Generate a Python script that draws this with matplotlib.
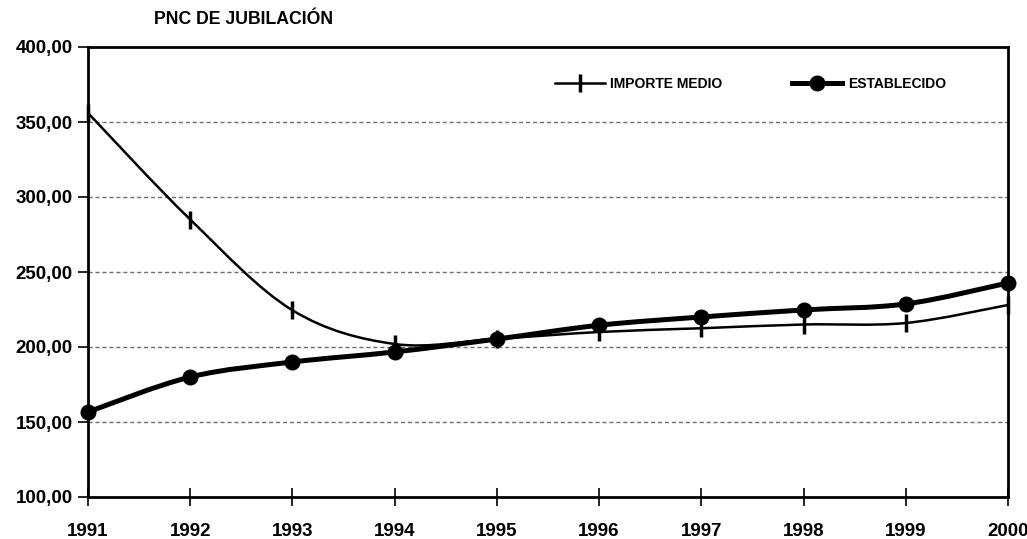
import matplotlib
matplotlib.use("Agg")
import matplotlib.pyplot as plt
from matplotlib.path import Path
from matplotlib.patches import PathPatch
from matplotlib.lines import Line2D
from matplotlib.ticker import FuncFormatter
import numpy as np

years = [1991, 1992, 1993, 1994, 1995, 1996, 1997, 1998, 1999, 2000]
importe_medio = [356.0, 285.0, 224.5, 202.0, 205.5, 210.0, 212.5, 215.0, 216.0, 228.0]
establecido = [156.7, 180.0, 190.0, 196.7, 205.3, 214.5, 220.0, 224.7, 228.7, 242.7]
title = "PNC DE JUBILACIÓN"
label_importe = "IMPORTE MEDIO"
label_establecido = "ESTABLECIDO"
yticks = [100, 150, 200, 250, 300, 350, 400]

FONT = ["Liberation Sans Narrow", "Liberation Sans", "DejaVu Sans"]
plt.rcParams["font.family"] = FONT
plt.rcParams["font.weight"] = "bold"


def smooth_path(xs, ys):
    """Catmull-Rom style cubic Bezier path (as Excel's smoothed line)."""
    P = np.column_stack([xs, ys]).astype(float)
    n = len(P)
    verts = [P[0]]
    codes = [Path.MOVETO]
    for i in range(n - 1):
        p0 = P[i - 1] if i > 0 else P[i]
        p1 = P[i]
        p2 = P[i + 1]
        p3 = P[i + 2] if i + 2 < n else P[i + 1]
        c1 = p1 + (p2 - p0) / 6.0
        c2 = p2 - (p3 - p1) / 6.0
        verts += [c1, c2, p2]
        codes += [Path.CURVE4] * 3
    return Path(verts, codes)


fig = plt.figure(figsize=(10.27, 5.39), dpi=100)
ax = fig.add_axes([88 / 1027, 1 - 497 / 539, 920 / 1027, 450 / 539])

ax.set_xlim(1991, 2000)
ax.set_ylim(100, 400)

# gridlines
for v in yticks[1:-1]:
    ax.axhline(v, color="#707070", lw=1.0, ls=(0, (3, 2)), zorder=1)

# IMPORTE MEDIO
ax.add_patch(PathPatch(smooth_path(years, importe_medio), fill=False,
                       edgecolor="black", lw=1.8, zorder=3, clip_on=False))
ax.plot(years, importe_medio, ls="none", marker="|", ms=13, mew=2.5,
        color="black", zorder=4, clip_on=False)

# ESTABLECIDO
ax.add_patch(PathPatch(smooth_path(years, establecido), fill=False,
                       edgecolor="black", lw=3.6, zorder=5, clip_on=False,
                       capstyle="round", joinstyle="round"))
ax.plot(years, establecido, ls="none", marker="o", ms=10.5,
        color="black", zorder=6, clip_on=False)

# axes styling
for s in ax.spines.values():
    s.set_linewidth(2.0)
    s.set_color("black")
ax.set_yticks(yticks)
ax.yaxis.set_major_formatter(FuncFormatter(lambda v, p: f"{v:.2f}".replace(".", ",")))
ax.set_xticks(years)
ax.set_xticklabels([str(y) for y in years])
ax.tick_params(axis="y", direction="out", length=7, width=1.2, labelsize=13.5, pad=4)
ax.tick_params(axis="x", direction="inout", length=13, width=1.2, labelsize=13.5, pad=12)
for lab in ax.get_xticklabels() + ax.get_yticklabels():
    lab.set_fontweight("bold")

# legend
h1 = Line2D([], [], color="black", lw=1.8, marker="|", ms=13, mew=2.5)
h2 = Line2D([], [], color="black", lw=3.6, marker="o", ms=10.5)
leg = ax.legend([h1, h2], [label_importe, label_establecido], ncol=2, frameon=False,
                loc="center", bbox_to_anchor=(0.72, 0.918), handlelength=3.6,
                handletextpad=0.43, columnspacing=5.0,
                prop={"family": FONT, "weight": "bold", "size": 10})

fig.text(244 / 1027, 1 - 20 / 539, title, ha="center", va="center",
         fontsize=12.7, fontweight="bold")

fig.savefig("out.png", dpi=100)
